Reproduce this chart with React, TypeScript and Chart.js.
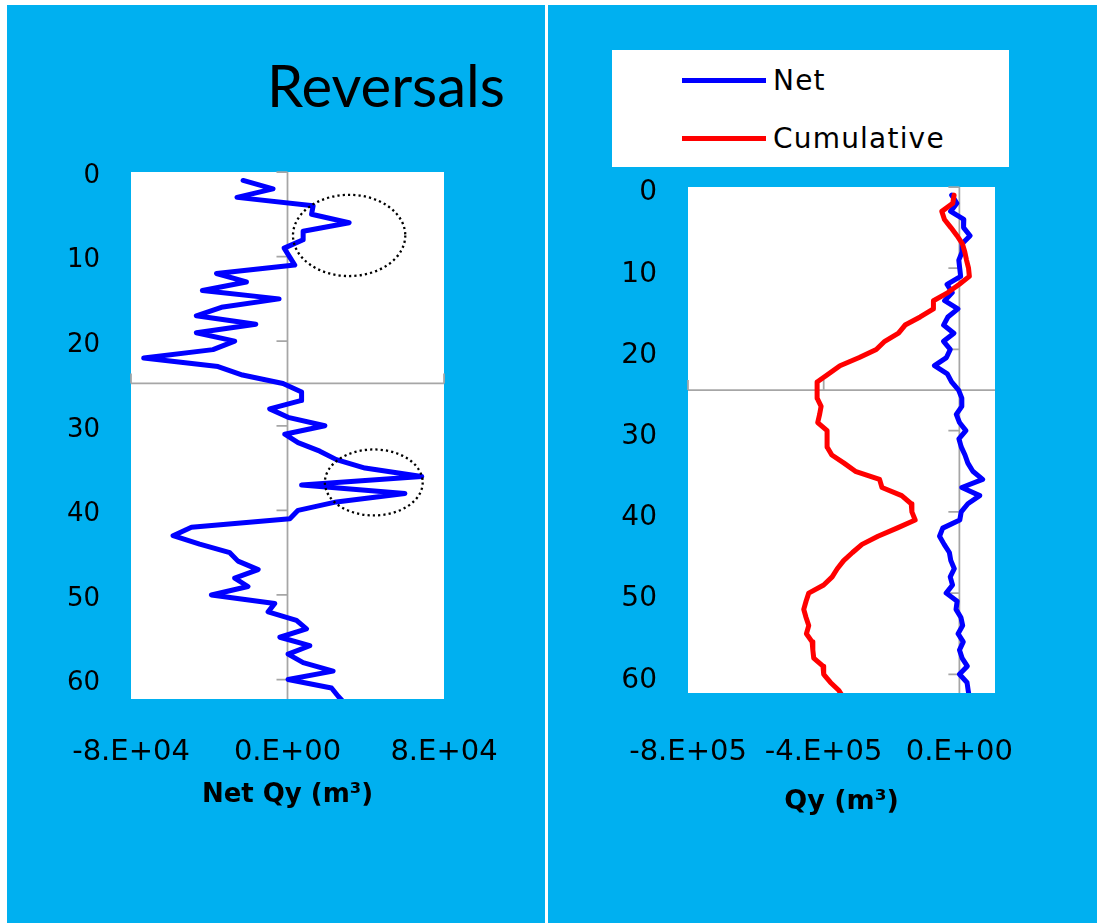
import React, { useEffect, useRef } from "react";
import { Chart, registerables } from "chart.js";

Chart.register(...registerables);

// ---------------- data ----------------
const DEPTH = [
  1, 2, 3, 4, 5, 6, 7, 8, 9, 10, 11, 12, 13, 14, 15, 16, 17, 18, 19, 20, 21,
  22, 23, 24, 25, 26, 27, 28, 29, 30, 31, 32, 33, 34, 35, 36, 37, 38, 39, 40,
  41, 42, 43, 44, 45, 46, 47, 48, 49, 50, 51, 52, 53, 54, 55, 56, 57, 58, 59,
  60, 61, 62, 63,
];

const NET_QY = [
  -22700, -7400, -25800, 13100, 12300, 31500, 8000, 8000, -1700, 1000, 3700,
  -36300, -21000, -43500, -4300, -33800, -46600, -16200, -46600, -27000, -38100,
  -73500, -35500, -23000, -2300, 7200, 7200, -9100, 300, 19100, -1400, 5400,
  16500, 25000, 39600, 68600, 7200, 60000, 25000, 5400, 1200, -49100, -58500,
  -44900, -29500, -25300, -15000, -27000, -20200, -38900, -6500, -9900, 4600,
  9700, -3900, 11400, 300, 8000, 23300, 300, 22500, 26000, 30000,
];

const CUMULATIVE_QY = [
  -15600, -19400, -51800, -44000, -25000, -7000, 9000, 16000, 21000, 27000,
  29400, -1000, -34000, -76500, -76500, -115600, -160000, -179400, -220000,
  -245000, -295000, -352000, -385000, -419400, -419400, -419400, -407600,
  -412000, -417600, -390000, -390000, -390000, -376000, -340000, -306700,
  -235300, -228200, -170000, -142000, -140000, -130300, -184100, -240000,
  -287000, -315000, -341200, -360000, -375000, -400000, -444100, -452000,
  -458800, -452000, -444100, -450900, -434100, -432000, -429400, -402000,
  -400000, -380000, -355000, -340000,
];

const SERIES_NAMES = ["Net", "Cumulative"];
const DEPTH_TICKS = [0, 10, 20, 30, 40, 50, 60];
const DEPTH_RANGE = [0, 62.3];
const AXIS_CROSS_DEPTH = 25;
const LEFT_X_TICKS = [-80000, 0, 80000];
const LEFT_X_RANGE = [-80000, 80000];
const RIGHT_X_TICKS = [-800000, -400000, 0];
const RIGHT_X_RANGE = [-800000, 105000];
const LEFT_TITLE = "Reversals";
const LEFT_X_TITLE = "Net Qy (m³)";
const RIGHT_X_TITLE = "Qy (m³)";
// dotted ellipses highlighting the reversals (centre / radii in data units)
const HIGHLIGHTS = [
  { cx: 31500, cy: 7.5, rx: 28700, ry: 4.8 },
  { cx: 44100, cy: 36.7, rx: 25000, ry: 3.9 },
];

// ---------------- styles ----------------
const BG = "#00B0F0";
const NET_COLOR = "#0000FF";
const CUM_COLOR = "#FF0000";
const AXIS_COLOR = "#A6A6A6";
const FONT = "'DejaVu Sans', sans-serif";

function sci(v: number): string {
  if (v === 0) return "0.E+00";
  const e = Math.floor(Math.log10(Math.abs(v)));
  const m = Math.round(v / Math.pow(10, e));
  return `${m}.E${e < 0 ? "-" : "+"}${String(Math.abs(e)).padStart(2, "0")}`;
}

const axesPlugin = {
  id: "customAxes",
  beforeDraw(chart: any) {
    const { ctx, chartArea: a } = chart;
    ctx.save();
    ctx.fillStyle = "#FFFFFF";
    ctx.fillRect(a.left, a.top, a.right - a.left, a.bottom - a.top);
    ctx.restore();
  },
  beforeDatasetsDraw(chart: any, _args: any, opts: any) {
    const { ctx, chartArea: a, scales } = chart;
    const x = scales.x;
    const y = scales.y;
    const x0 = x.getPixelForValue(0);
    const yc = y.getPixelForValue(opts.crossY);
    ctx.save();
    ctx.strokeStyle = AXIS_COLOR;
    ctx.lineWidth = 1.75;
    ctx.beginPath();
    ctx.moveTo(x0, a.top);
    ctx.lineTo(x0, a.bottom);
    ctx.moveTo(a.left, yc);
    ctx.lineTo(a.right, yc);
    for (const t of y.ticks) {
      const py = y.getPixelForValue(t.value);
      ctx.moveTo(x0 - 11, py);
      ctx.lineTo(x0, py);
    }
    for (const t of x.ticks) {
      const px = x.getPixelForValue(t.value);
      ctx.moveTo(px, yc - 10);
      ctx.lineTo(px, yc);
    }
    ctx.stroke();
    ctx.restore();
  },
};

const highlightPlugin = {
  id: "highlights",
  afterDatasetsDraw(chart: any, _args: any, opts: any) {
    const items = (opts && opts.items) || [];
    if (!items.length) return;
    const { ctx, scales } = chart;
    const x = scales.x;
    const y = scales.y;
    ctx.save();
    ctx.strokeStyle = "#000000";
    ctx.lineWidth = 2.3;
    ctx.setLineDash([2.2, 3.1]);
    for (const h of items) {
      const cx = x.getPixelForValue(h.cx);
      const cy = y.getPixelForValue(h.cy);
      const rx = Math.abs(x.getPixelForValue(h.cx + h.rx) - cx);
      const ry = Math.abs(y.getPixelForValue(h.cy + h.ry) - cy);
      ctx.beginPath();
      ctx.ellipse(cx, cy, rx, ry, 0, 0, Math.PI * 2);
      ctx.stroke();
    }
    ctx.restore();
  },
};

function lineDataset(label: string, values: number[], color: string, order: number) {
  return {
    label,
    data: DEPTH.map((d, i) => ({ x: values[i], y: d })),
    showLine: true,
    borderColor: color,
    backgroundColor: color,
    borderWidth: 5,
    pointRadius: 0,
    pointHoverRadius: 0,
    tension: 0,
    fill: false,
    borderJoinStyle: "round",
    borderCapStyle: "round",
    order,
  };
}

function buildConfig(p: any): any {
  return {
    type: "scatter",
    data: { datasets: p.datasets },
    plugins: [axesPlugin, highlightPlugin],
    options: {
      responsive: false,
      animation: false,
      layout: { padding: p.padding },
      plugins: {
        legend: { display: false },
        tooltip: { enabled: false },
        customAxes: { crossY: AXIS_CROSS_DEPTH },
        highlights: { items: p.highlights },
      },
      scales: {
        x: {
          type: "linear",
          position: "bottom",
          min: p.xRange[0],
          max: p.xRange[1],
          grid: { display: false, drawTicks: false },
          border: { display: false },
          afterBuildTicks: (s: any) => {
            s.ticks = p.xTicks.map((v: number) => ({ value: v }));
          },
          afterFit: (s: any) => {
            s.height = p.xAxisHeight;
          },
          ticks: {
            padding: p.xTickPad,
            autoSkip: false,
            maxRotation: 0,
            color: "#000",
            font: { family: FONT, size: p.xTickSize },
            callback: (v: any) => sci(Number(v)),
          },
          title: {
            display: true,
            text: p.xTitle,
            color: "#000",
            padding: 0,
            font: { family: FONT, size: p.xTitleSize, weight: "bold" },
          },
        },
        y: {
          type: "linear",
          position: "left",
          reverse: true,
          min: DEPTH_RANGE[0],
          max: DEPTH_RANGE[1],
          grid: { display: false, drawTicks: false },
          border: { display: false },
          afterBuildTicks: (s: any) => {
            s.ticks = DEPTH_TICKS.map((v) => ({ value: v }));
          },
          afterFit: (s: any) => {
            s.width = p.yAxisWidth;
          },
          ticks: {
            padding: 31,
            labelOffset: p.yLabelOffset,
            autoSkip: false,
            color: "#000",
            font: { family: FONT, size: p.yTickSize },
          },
        },
      },
    },
  };
}

function ChartCanvas({ left, top, width, height, make }: any) {
  const ref = useRef<HTMLCanvasElement>(null);
  useEffect(() => {
    const chart = new Chart(ref.current as HTMLCanvasElement, make());
    return () => chart.destroy();
  }, []);
  return (
    <canvas
      ref={ref}
      width={width}
      height={height}
      style={{ position: "absolute", left, top, width, height }}
    />
  );
}

const makeLeft = () =>
  buildConfig({
    datasets: [lineDataset(SERIES_NAMES[0], NET_QY, NET_COLOR, 0)],
    padding: { left: 0, top: 167, right: 101, bottom: 112 },
    yAxisWidth: 124,
    xAxisHeight: 112,
    xTickPad: 36,
    xTickSize: 29,
    yTickSize: 26,
    yLabelOffset: 4,
    xTitle: LEFT_X_TITLE,
    xTitleSize: 26,
    xRange: LEFT_X_RANGE,
    xTicks: LEFT_X_TICKS,
    highlights: HIGHLIGHTS,
  });

const makeRight = () =>
  buildConfig({
    datasets: [
      lineDataset(SERIES_NAMES[0], NET_QY, NET_COLOR, 1),
      lineDataset(SERIES_NAMES[1], CUMULATIVE_QY, CUM_COLOR, 0),
    ],
    padding: { left: 0, top: 182, right: 102, bottom: 105 },
    yAxisWidth: 140,
    xAxisHeight: 125,
    xTickPad: 42,
    xTickSize: 29,
    yTickSize: 28,
    yLabelOffset: 6,
    xTitle: RIGHT_X_TITLE,
    xTitleSize: 27,
    xRange: RIGHT_X_RANGE,
    xTicks: RIGHT_X_TICKS,
    highlights: [],
  });

function LegendRow({ top, color, label }: any) {
  return (
    <div
      style={{
        position: "absolute",
        left: 70,
        top,
        height: 40,
        display: "flex",
        alignItems: "center",
      }}
    >
      <div style={{ width: 84, height: 5, background: color }} />
      <span
        style={{
          marginLeft: 7,
          fontFamily: FONT,
          fontSize: 28,
          letterSpacing: "1.2px",
          color: "#000",
          whiteSpace: "nowrap",
        }}
      >
        {label}
      </span>
    </div>
  );
}

export default function App() {
  return (
    <div
      style={{
        position: "absolute",
        left: 0,
        top: 0,
        width: 1097,
        height: 923,
        background: "#FFFFFF",
        overflow: "hidden",
      }}
    >
      <div style={{ position: "absolute", left: 7, top: 5, width: 538, height: 918, background: BG }}>
        <ChartCanvas left={0} top={0} width={538} height={918} make={makeLeft} />
        <div
          style={{
            position: "absolute",
            left: 260,
            top: 51,
            fontFamily: "Lato, sans-serif",
            fontSize: 58,
            lineHeight: "58px",
            color: "#000",
            whiteSpace: "nowrap",
          }}
        >
          {LEFT_TITLE}
        </div>
      </div>
      <div style={{ position: "absolute", left: 548, top: 5, width: 549, height: 918, background: BG }}>
        <ChartCanvas left={0} top={0} width={549} height={918} make={makeRight} />
        <div
          style={{
            position: "absolute",
            left: 64,
            top: 45,
            width: 397,
            height: 117,
            background: "#FFFFFF",
          }}
        >
          <LegendRow top={10} color={NET_COLOR} label={SERIES_NAMES[0]} />
          <LegendRow top={68} color={CUM_COLOR} label={SERIES_NAMES[1]} />
        </div>
      </div>
    </div>
  );
}
